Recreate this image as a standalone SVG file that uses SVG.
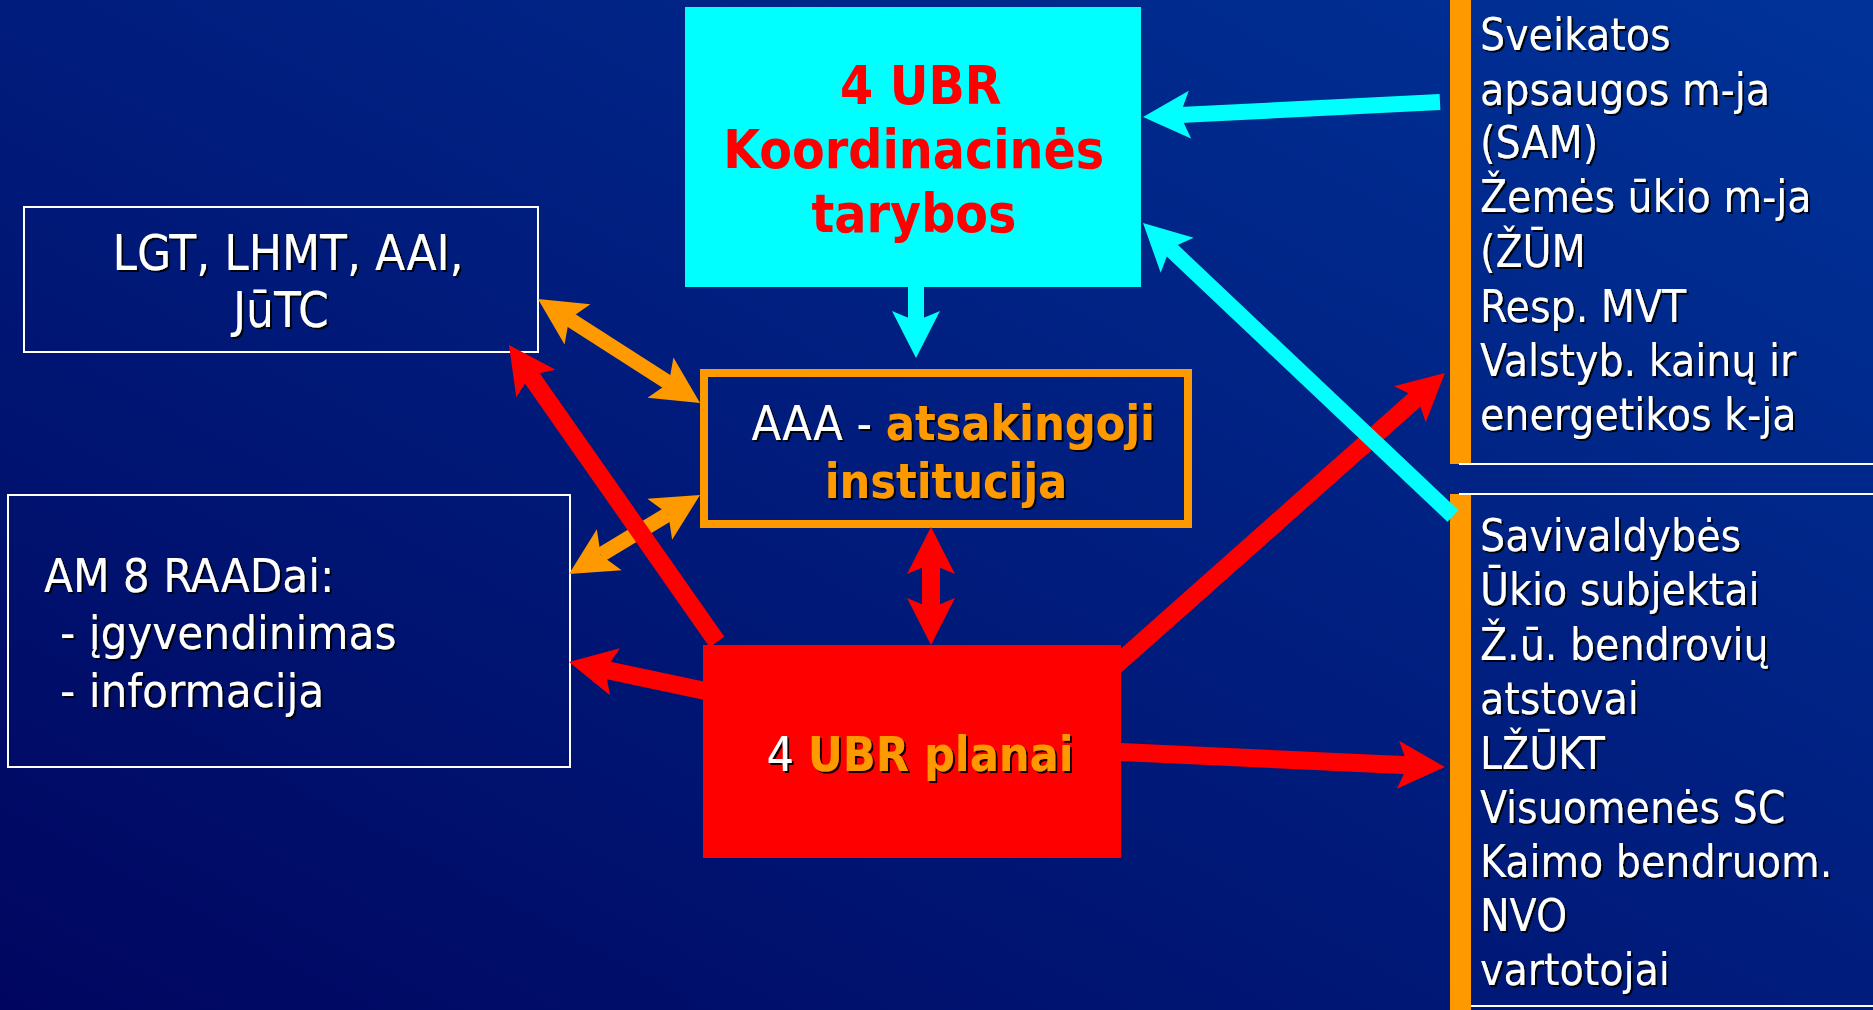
<svg xmlns="http://www.w3.org/2000/svg" width="1873" height="1010" viewBox="0 0 1873 1010">
  <defs>
    <linearGradient id="bg" x1="0" y1="1" x2="1" y2="0">
      <stop offset="0" stop-color="#000660"/>
      <stop offset="1" stop-color="#003399"/>
    </linearGradient>
    <filter id="sh" x="-5%" y="-10%" width="110%" height="130%">
      <feDropShadow dx="2" dy="2" stdDeviation="0.4" flood-color="#000000" flood-opacity="0.9"/>
    </filter>
    <marker id="ah-red" markerUnits="userSpaceOnUse" markerWidth="48" markerHeight="50" viewBox="0 -25 48 50" refX="10" refY="0" orient="auto-start-reverse">
      <path d="M0,-24 L47,0 L0,24 L10,0 Z" fill="#ff0000"/>
    </marker>
    <marker id="ah-cyan" markerUnits="userSpaceOnUse" markerWidth="48" markerHeight="50" viewBox="0 -25 48 50" refX="10" refY="0" orient="auto-start-reverse">
      <path d="M0,-24 L47,0 L0,24 L10,0 Z" fill="#00ffff"/>
    </marker>
    <marker id="ah-orange" markerUnits="userSpaceOnUse" markerWidth="48" markerHeight="50" viewBox="0 -25 48 50" refX="10" refY="0" orient="auto-start-reverse">
      <path d="M0,-24 L47,0 L0,24 L10,0 Z" fill="#ff9900"/>
    </marker>
  </defs>
  <style>
    .t { font-family: "DejaVu Sans Condensed", "DejaVu Sans", sans-serif; font-stretch: condensed; }
    .w { fill: #ffffff; }
    .o { fill: #ff9900; font-weight: bold; }
    .b { font-weight: bold; }
    .s { filter: url(#sh); }
    .box { fill: none; stroke: #ffffff; stroke-width: 2; }
    .red { stroke: #ff0000; stroke-width: 18; fill: none; marker-end: url(#ah-red); }
    .cyan { stroke: #00ffff; stroke-width: 16; fill: none; marker-end: url(#ah-cyan); }
    .orange { stroke: #ff9900; stroke-width: 15; fill: none; marker-start: url(#ah-orange); marker-end: url(#ah-orange); }
  </style>

  <rect x="0" y="0" width="1873" height="1010" fill="url(#bg)"/>

  <g id="koordinacines-tarybos">
    <rect x="685" y="7" width="456" height="280" fill="#00ffff"/>
    <text class="t b" font-size="53" fill="#ff0000" text-anchor="middle">
      <tspan x="929" y="104">4 UBR</tspan>
      <tspan x="922" y="168">Koordinacinės</tspan>
      <tspan x="914" y="232">tarybos</tspan>
    </text>
  </g>

  <g id="lgt-lhmt">
    <rect class="box" x="24" y="207" width="514" height="145"/>
    <text class="t w s" font-size="49" text-anchor="middle">
      <tspan x="295" y="270">LGT, LHMT, AAI,</tspan>
      <tspan x="281" y="327">JūTC</tspan>
    </text>
  </g>

  <g id="am-raadai">
    <rect class="box" x="8" y="495" width="562" height="272"/>
    <text class="t w s" font-size="47">
      <tspan x="44" y="592">AM 8 RAADai:</tspan>
      <tspan x="60" y="649">- įgyvendinimas</tspan>
      <tspan x="60" y="707">- informacija</tspan>
    </text>
  </g>

  <g id="aaa">
    <rect x="704" y="373" width="484" height="151" fill="none" stroke="#ff9900" stroke-width="8"/>
    <text class="t s" font-size="48" text-anchor="middle">
      <tspan x="960" y="440"><tspan class="w">AAA - </tspan><tspan class="o">atsakingoji</tspan></tspan>
      <tspan class="o" x="946" y="498">institucija</tspan>
    </text>
  </g>

  <g id="ubr-planai">
    <rect x="703" y="645" width="418" height="213" fill="#ff0000"/>
    <text class="t s" font-size="48" text-anchor="middle" x="920" y="771"><tspan class="w">4 </tspan><tspan class="o">UBR planai</tspan></text>
  </g>

  <g id="ministerijos">
    <rect x="1450" y="0" width="21" height="464" fill="#ff9900"/>
    <line x1="1459" y1="464" x2="1873" y2="464" stroke="#ffffff" stroke-width="2"/>
    <text class="t w s" font-size="44">
      <tspan x="1480" y="50">Sveikatos</tspan>
      <tspan x="1480" y="105">apsaugos m-ja</tspan>
      <tspan x="1480" y="158">(SAM)</tspan>
      <tspan x="1480" y="212">Žemės ūkio m-ja</tspan>
      <tspan x="1480" y="267">(ŽŪM</tspan>
      <tspan x="1480" y="322">Resp. MVT</tspan>
      <tspan x="1480" y="376">Valstyb. kainų ir</tspan>
      <tspan x="1480" y="430">energetikos k-ja</tspan>
    </text>
  </g>

  <g id="visuomene">
    <rect x="1450" y="494" width="21" height="516" fill="#ff9900"/>
    <line x1="1459" y1="494" x2="1873" y2="494" stroke="#ffffff" stroke-width="2"/>
    <line x1="1471" y1="1006" x2="1873" y2="1006" stroke="#ffffff" stroke-width="2"/>
    <text class="t w s" font-size="44">
      <tspan x="1480" y="551">Savivaldybės</tspan>
      <tspan x="1480" y="605">Ūkio subjektai</tspan>
      <tspan x="1480" y="660">Ž.ū. bendrovių</tspan>
      <tspan x="1480" y="714">atstovai</tspan>
      <tspan x="1480" y="769">LŽŪKT</tspan>
      <tspan x="1480" y="823">Visuomenės SC</tspan>
      <tspan x="1480" y="877">Kaimo bendruom.</tspan>
      <tspan x="1480" y="931">NVO</tspan>
      <tspan x="1480" y="985">vartotojai</tspan>
    </text>
  </g>

  <g id="connectors">
    <line class="orange" x1="569.1" y1="319" x2="668.9" y2="383"/>
    <line class="orange" x1="600.7" y1="554.9" x2="668.3" y2="514.1"/>
    <line class="red" x1="717" y1="642" x2="530.2" y2="375.3"/>
    <line class="red" x1="710" y1="692" x2="605.2" y2="669.7"/>
    <line class="red" x1="1115" y1="666" x2="1417.3" y2="397.6"/>
    <line class="red" x1="1115" y1="751.7" x2="1408" y2="765.3"/>
    <line class="red" x1="931" y1="564" x2="931" y2="608" stroke-width="16" style="marker-start:url(#ah-red)"/>
    <line class="cyan" x1="916" y1="287" x2="916" y2="321"/>
    <line class="cyan" x1="1440" y1="102" x2="1180" y2="115.1"/>
    <line class="cyan" x1="1453" y1="516" x2="1169.9" y2="248.4"/>
  </g>
</svg>
